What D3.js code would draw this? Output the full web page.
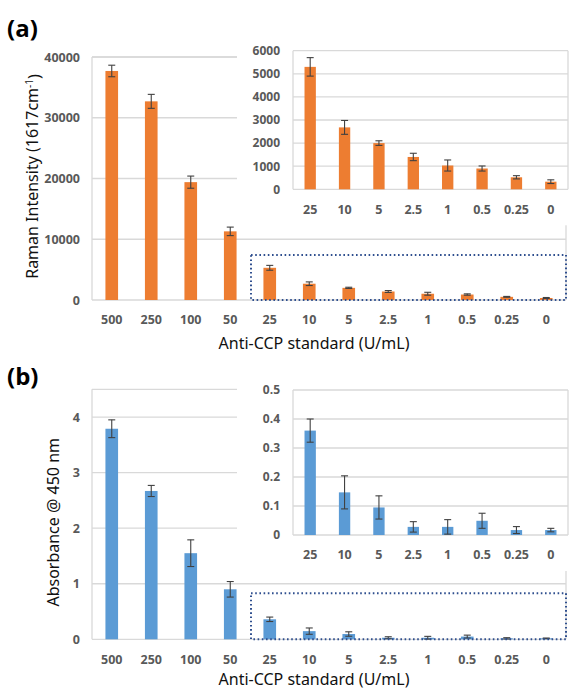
<!DOCTYPE html>
<html>
<head>
<meta charset="utf-8">
<script src="https://cdn.jsdelivr.net/npm/d3@7"></script>
<style>
  body { margin: 0; background: #fff; }
  svg { display: block; }
</style>
</head>
<body>
<script>
// categories (U/mL) and the subset shown in the zoomed insets
const categories = ['500', '250', '100', '50', '25', '10', '5', '2.5', '1', '0.5', '0.25', '0'];
const insetCategories = categories.slice(4);

// panel (a): Raman intensity at 1617 cm-1
const ramanMean = [37700, 32700, 19400, 11300, 5300, 2680, 2000, 1400, 1030, 900, 520, 330];
const ramanErr = [950, 1150, 1000, 700, 400, 300, 100, 160, 240, 110, 70, 80];
const ramanTicks = [0, 10000, 20000, 30000, 40000];
const ramanInsetTicks = [0, 1000, 2000, 3000, 4000, 5000, 6000];

// panel (b): absorbance @ 450 nm
const absMean = [3.79, 2.67, 1.55, 0.90, 0.36, 0.147, 0.095, 0.028, 0.028, 0.049, 0.017, 0.017];
const absErr = [0.16, 0.10, 0.24, 0.14, 0.04, 0.057, 0.04, 0.018, 0.025, 0.026, 0.012, 0.006];
const absTicks = [0, 1, 2, 3, 4];
const absInsetTicks = [0, 0.1, 0.2, 0.3, 0.4, 0.5];

const W = 569, H = 690;
const gridColor = '#d9d9d9';
const tickColor = '#595959';
const errColor = '#404040';
const boxColor = '#2f4f8f';
const tickFont = '"Open Sans", sans-serif';
const titleFont = '"Noto Sans", "Open Sans", sans-serif';

const svg = d3.select('body').append('svg')
  .attr('width', W)
  .attr('height', H);

function drawBars(g, x, y, cats, means, errs, color, capW) {
  const rows = cats.map((c, i) => ({ c, v: means[i], e: errs[i] }));
  g.selectAll('rect.bar').data(rows).join('rect')
    .attr('class', 'bar')
    .attr('x', d => x(d.c))
    .attr('width', x.bandwidth())
    .attr('y', d => y(d.v))
    .attr('height', d => y(0) - y(d.v))
    .attr('fill', color);

  const eb = g.selectAll('g.err').data(rows).join('g').attr('class', 'err')
    .attr('stroke', errColor).attr('stroke-width', 1.1);
  const cx = d => x(d.c) + x.bandwidth() / 2;
  eb.append('line')
    .attr('x1', cx).attr('x2', cx)
    .attr('y1', d => y(d.v + d.e)).attr('y2', d => y(Math.max(0, d.v - d.e)));
  eb.append('line')
    .attr('x1', d => cx(d) - capW / 2).attr('x2', d => cx(d) + capW / 2)
    .attr('y1', d => y(d.v + d.e)).attr('y2', d => y(d.v + d.e));
  eb.append('line')
    .attr('x1', d => cx(d) - capW / 2).attr('x2', d => cx(d) + capW / 2)
    .attr('y1', d => y(Math.max(0, d.v - d.e))).attr('y2', d => y(Math.max(0, d.v - d.e)));
}

function yAxis(g, y, ticks, x0, size, fmt) {
  g.append('g')
    .attr('transform', `translate(${x0},0)`)
    .call(d3.axisLeft(y).tickValues(ticks).tickSize(0).tickPadding(0).tickFormat(fmt))
    .call(a => a.select('.domain').remove())
    .call(a => a.selectAll('text')
      .attr('fill', tickColor)
      .style('font-family', tickFont)
      .style('font-size', size + 'px')
      .style('font-weight', 700));
}

function xAxis(g, x, yPos, size) {
  g.append('g')
    .attr('transform', `translate(0,${yPos})`)
    .call(d3.axisBottom(x).tickSize(0).tickPadding(0))
    .call(a => a.select('.domain').remove())
    .call(a => a.selectAll('text')
      .attr('fill', tickColor)
      .attr('dy', '0.35em')
      .style('font-family', tickFont)
      .style('font-size', size + 'px')
      .style('font-weight', 700));
}

function panel(cfg) {
  const g = svg.append('g');

  // ---- main chart
  const x = d3.scaleBand().domain(categories).range([92, 566])
    .paddingInner(0.68).paddingOuter(0.34);
  const y = d3.scaleLinear().domain([0, cfg.max]).range([cfg.bottom, cfg.top]);

  g.append('g').selectAll('line').data(cfg.ticks.concat([cfg.max])).join('line')
    .attr('x1', 92).attr('x2', 566)
    .attr('y1', d => y(d)).attr('y2', d => y(d))
    .attr('stroke', gridColor).attr('stroke-width', 1.3);
  g.append('line').attr('x1', 92).attr('x2', 92)
    .attr('y1', y(cfg.max)).attr('y2', y(0))
    .attr('stroke', gridColor).attr('stroke-width', 1.3);
  g.append('line').attr('x1', 566).attr('x2', 566)
    .attr('y1', y(cfg.max)).attr('y2', y(0))
    .attr('stroke', gridColor).attr('stroke-width', 1.3);

  drawBars(g, x, y, categories, cfg.mean, cfg.err, cfg.color, 7);
  yAxis(g, y, cfg.ticks, 80, 12.5, cfg.fmt);
  xAxis(g, x, cfg.bottom + 20, 12.5);

  // dotted box marking the zoomed range
  const boxX = x('25') - x.step() * x.paddingInner() / 2 + 1;
  g.append('rect')
    .attr('x', boxX)
    .attr('y', cfg.bottom - cfg.boxH)
    .attr('width', 566 - boxX)
    .attr('height', cfg.boxH)
    .attr('fill', 'none')
    .attr('stroke', boxColor)
    .attr('stroke-width', 2)
    .attr('stroke-dasharray', '1.6,2.6');

  // ---- inset
  const ig = g.append('g');
  ig.append('rect')
    .attr('x', 237).attr('y', cfg.iTop - 12)
    .attr('width', W - 237).attr('height', cfg.iBottom - cfg.iTop + 48)
    .attr('fill', '#fff');

  const xi = d3.scaleBand().domain(insetCategories).range([293, 568])
    .paddingInner(0.67).paddingOuter(0.335);
  const yi = d3.scaleLinear().domain([0, cfg.iMax]).range([cfg.iBottom, cfg.iTop]);

  ig.append('g').selectAll('line').data(cfg.iTicks).join('line')
    .attr('x1', 293).attr('x2', 568)
    .attr('y1', d => yi(d)).attr('y2', d => yi(d))
    .attr('stroke', gridColor).attr('stroke-width', 1.3);
  ig.append('line').attr('x1', 293).attr('x2', 293)
    .attr('y1', yi(cfg.iMax)).attr('y2', yi(0))
    .attr('stroke', gridColor).attr('stroke-width', 1.3);
  ig.append('line').attr('x1', 568).attr('x2', 568)
    .attr('y1', yi(cfg.iMax)).attr('y2', yi(0))
    .attr('stroke', gridColor).attr('stroke-width', 1.3);

  drawBars(ig, xi, yi, insetCategories, cfg.mean.slice(4), cfg.err.slice(4), cfg.color, 7);
  yAxis(ig, yi, cfg.iTicks, 280, 12, cfg.iFmt);
  xAxis(ig, xi, cfg.iBottom + 20, 12.5);

  // ---- titles
  g.append('text')
    .attr('x', 7).attr('y', cfg.labelY)
    .style('font-family', '"Open Sans", sans-serif')
    .style('font-size', '24px')
    .style('font-weight', 700)
    .attr('fill', '#000')
    .text(cfg.label);

  g.append('text')
    .attr('transform', `translate(${cfg.yTitleX},${(cfg.top + cfg.bottom) / 2 + cfg.yTitleDy}) rotate(-90)`)
    .attr('text-anchor', 'middle')
    .attr('dy', '0.35em')
    .style('font-family', titleFont)
    .style('font-size', '16px')
    .attr('fill', '#111')
    .call(t => cfg.yTitle(t));

  g.append('text')
    .attr('x', 314).attr('y', cfg.bottom + cfg.xTitleDy)
    .attr('text-anchor', 'middle')
    .attr('dy', '0.35em')
    .style('font-family', titleFont)
    .style('font-size', '16px')
    .attr('fill', '#111')
    .text('Anti-CCP standard (U/mL)');
}

panel({
  label: '(a)', labelY: 37,
  mean: ramanMean, err: ramanErr, color: '#ed7d31',
  max: 40000, ticks: ramanTicks, top: 57, bottom: 300, fmt: d3.format('d'),
  iMax: 6000, iTicks: ramanInsetTicks, iTop: 50.7, iBottom: 189.3, iFmt: d3.format('d'),
  boxH: 45, xTitleDy: 43,
  yTitleX: 32, yTitleDy: -2,
  yTitle: t => {
    t.append('tspan').text('Raman Intensity (1617cm');
    t.append('tspan').attr('dy', '-0.45em').style('font-size', '10px').text('-1');
    t.append('tspan').attr('dy', '0.45em').text(')');
  }
});

panel({
  label: '(b)', labelY: 385,
  mean: absMean, err: absErr, color: '#5b9bd5',
  max: 4.5, ticks: absTicks, top: 389.3, bottom: 639.3, fmt: d3.format('d'),
  iMax: 0.5, iTicks: absInsetTicks, iTop: 390, iBottom: 535, iFmt: d => d === 0 ? '0' : d3.format('.1f')(d),
  boxH: 46, xTitleDy: 40,
  yTitleX: 53, yTitleDy: 8,
  yTitle: t => t.text('Absorbance @ 450 nm')
});
</script>
</body>
</html>
